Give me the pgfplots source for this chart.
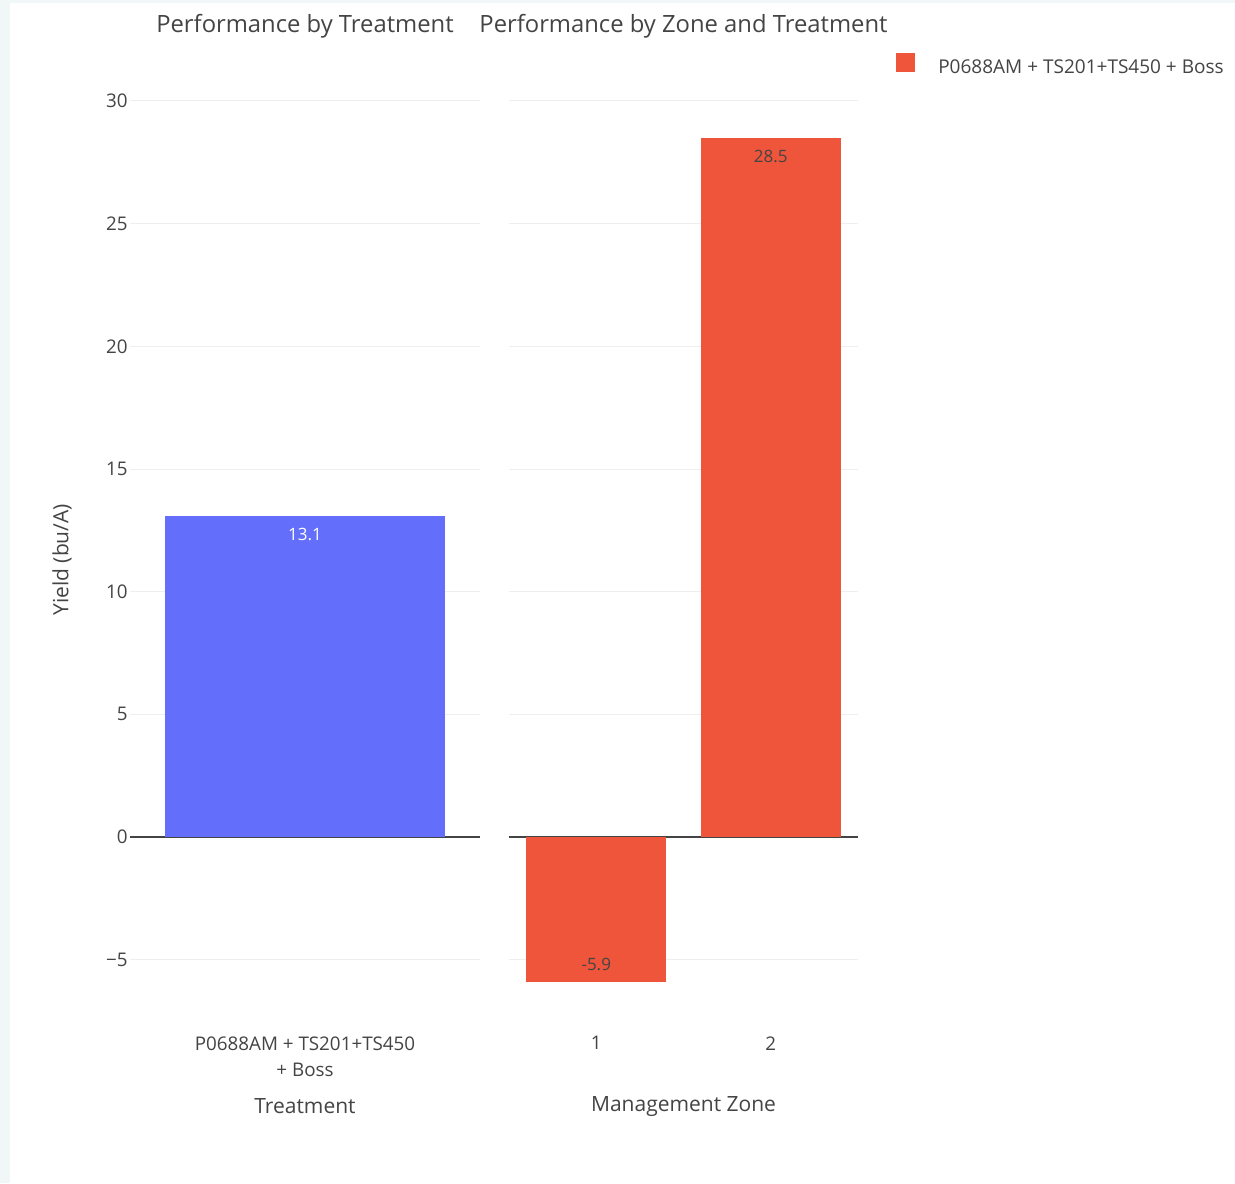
\documentclass[border=0pt]{standalone}
\usepackage{pgfplots}
\pgfplotsset{compat=1.18}
\usepackage{fontspec}
\setmainfont{Open Sans}
\definecolor{pblue}{HTML}{636EFA}
\definecolor{pred}{HTML}{EF553B}
\definecolor{ptxt}{HTML}{444444}
\definecolor{pgrid}{HTML}{EEEEEE}
\definecolor{pbg}{HTML}{F1F6F7}
\pgfplotsset{
  base/.style={
    scale only axis,
    height=695.55pt,
    ymin=-7.6, ymax=30.2,
    axis line style={draw=none},
    major tick length=0pt,
    ymajorgrids,
    major grid style={color=pgrid, line width=0.75pt},
    ytick={-5,5,10,15,20,25,30},
    extra y ticks={0},
    extra y tick style={major grid style={color=ptxt, line width=1.1pt}},
    ybar, bar width=0.8,
    tick label style={font=\fontsize{14.1pt}{19.5pt}\selectfont, text=ptxt},
    yticklabel style={anchor=east, inner sep=0pt, xshift=-1.5pt},
    xticklabel style={anchor=north, inner sep=0pt, yshift=-9.6pt, align=center},
    title style={at={(0.5,1.0670)}, anchor=center, font=\fontsize{17.85pt}{21pt}\selectfont, text=ptxt},
    xlabel style={at={(0.5,-0.0895)}, anchor=center, font=\fontsize{15.75pt}{19pt}\selectfont, text=ptxt},
    ylabel style={at={(-0.194,0.5)}, anchor=center, font=\fontsize{15.75pt}{19pt}\selectfont, text=ptxt},
    point meta=explicit symbolic,
  }
}
\begin{document}
\begin{tikzpicture}
\fill[pbg] (0pt,0pt) rectangle (926.25pt,887.25pt);
\fill[white] (7.5pt,0pt) rectangle (926.25pt,885pt);
\useasboundingbox (0pt,0pt) rectangle (926.25pt,887.25pt);
\begin{axis}[base,
  at={(97.5pt,119.625pt)}, anchor=south west,
  width=262.5pt,
  xmin=-0.5, xmax=0.5,
  xtick={0}, xticklabels={{P0688AM + TS201+TS450\\+ Boss}},
  yticklabels={−5,5,10,15,20,25,30},
  extra y tick labels={0},
  title={Performance by Treatment},
  xlabel={Treatment},
  ylabel={Yield (bu/A)},
]
\addplot[fill=pblue, draw=none, bar shift=0pt,
  nodes near coords,
  nodes near coords style={anchor=north, inner sep=0pt, yshift=-9pt, text=white, font=\fontsize{12.75pt}{15pt}\selectfont}]
  coordinates {(0,13.1) [13.1]};
\end{axis}
\begin{axis}[base,
  at={(381.75pt,119.625pt)}, anchor=south west,
  width=261.75pt,
  xmin=-0.5, xmax=1.5,
  xtick={0,1}, xticklabels={1,2},
  yticklabels={}, extra y tick labels={},
  title={Performance by Zone and Treatment},
  xlabel={Management Zone},
  legend style={at={(1.1089,1.0341)}, anchor=west, draw=none, fill=none,
    inner sep=0pt, column sep=0pt, nodes={inner sep=0pt},
    font=\fontsize{14.25pt}{17pt}\selectfont, text=ptxt},
  legend image code/.code={\fill[#1] (0pt,-3.1pt) rectangle (14.25pt,11.15pt); \path (31.5pt,0pt);},
]
\addplot[fill=pred, draw=none, bar shift=0pt,
  nodes near coords,
  nodes near coords style={anchor=north, inner sep=0pt, yshift=-9pt, text=ptxt, font=\fontsize{12.75pt}{15pt}\selectfont}]
  coordinates {(1,28.5) [28.5]};
\addlegendentry{P0688AM + TS201+TS450 + Boss}
\addplot[fill=pred, draw=none, bar shift=0pt, forget plot,
  nodes near coords,
  nodes near coords style={anchor=south, inner sep=0pt, yshift=8.25pt, text=ptxt, font=\fontsize{12.75pt}{15pt}\selectfont}]
  coordinates {(0,-5.9) [-5.9]};
\end{axis}
\end{tikzpicture}
\end{document}
